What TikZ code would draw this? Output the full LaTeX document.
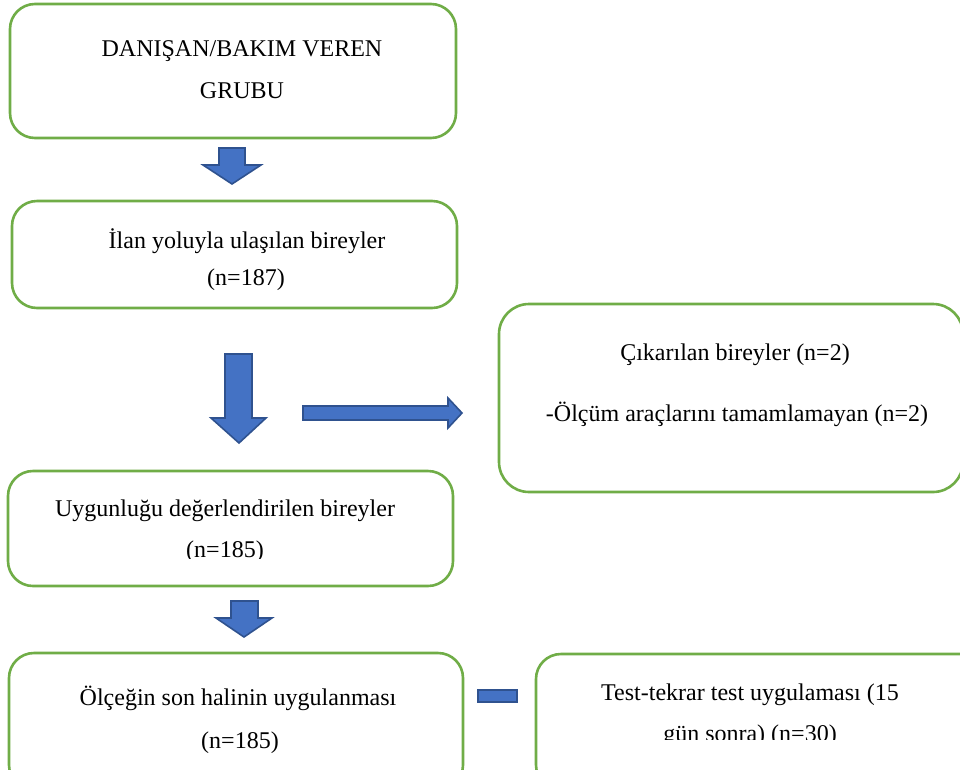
\documentclass[tikz,border=0pt]{standalone}
\usepackage{fontspec}
\setmainfont{Liberation Serif}
\definecolor{boxgreen}{RGB}{112,173,71}
\definecolor{arrowblue}{RGB}{68,114,196}
\definecolor{arrowedge}{RGB}{47,82,143}
\begin{document}
\begin{tikzpicture}[x=1pt,y=-1pt,
  box/.style={draw=boxgreen, line width=2.6pt, rounded corners=25pt, fill=white, inner sep=0pt, outer sep=0pt},
  lbl/.style={font=\fontsize{24}{28}\selectfont, anchor=base, inner sep=0pt},
  blk/.style={fill=arrowblue, draw=arrowedge, line width=1.6pt, line join=miter}]
\useasboundingbox (0,0) rectangle (960,769);
\clip (0,0) rectangle (960,769);
% boxes
\node[box, minimum width=446pt, minimum height=134pt] (b1) at (233,71) {};
\node[box, minimum width=445pt, minimum height=107pt] (b2) at (234.5,254.5) {};
\node[box, minimum width=464pt, minimum height=188pt, rounded corners=30pt] (b3) at (731,398) {};
\node[box, minimum width=445pt, minimum height=115pt] (b4) at (230.5,528.5) {};
\node[box, minimum width=454pt, minimum height=137pt] (b5) at (236,721.5) {};
\node[box, minimum width=449pt, minimum height=136pt] (b6) at (760.5,722) {};
% texts
\node[lbl] (t1a) at (242,56) {DANIŞAN/BAKIM VEREN};
\node[lbl] (t1b) at (242,98) {GRUBU};
\node[lbl] (t2a) at (247,248) {İlan yoluyla ulaşılan bireyler};
\node[lbl] (t2b) at (246,285) {(n=187)};
\node[lbl] (t3a) at (735,360) {Çıkarılan bireyler (n=2)};
\node[lbl] (t3b) at (737,421) {-Ölçüm araçlarını tamamlamayan (n=2)};
\node[lbl] (t4a) at (225,516) {Uygunluğu değerlendirilen bireyler};
\begin{scope}
  \clip (100,520) rectangle (360,558);
  \node[lbl] (t4b) at (225,557) {(n=185)};
\end{scope}
\node[lbl] (t5a) at (238,705) {Ölçeğin son halinin uygulanması};
\node[lbl] (t5b) at (240,748) {(n=185)};
\node[lbl] (t6a) at (750,700) {Test-tekrar test uygulaması (15};
\begin{scope}
  \clip (600,710) rectangle (900,739);
  \node[lbl] (t6b) at (750,741) {gün sonra) (n=30)};
\end{scope}
% block arrows
\draw[blk] (219,148) -- (245,148) -- (245,165) -- (261,165) -- (232,184) -- (203,165) -- (219,165) -- cycle;
\draw[blk] (225,354) -- (252,354) -- (252,418) -- (266,418) -- (239,443) -- (211,418) -- (225,418) -- cycle;
\draw[blk] (303,406) -- (448,406) -- (448,398) -- (462,413) -- (448,428) -- (448,420) -- (303,420) -- cycle;
\draw[blk] (231,601) -- (258,601) -- (258,618) -- (272,618) -- (244,637) -- (216,618) -- (231,618) -- cycle;
\draw[blk] (478,690) rectangle (517,702);
\end{tikzpicture}
\end{document}
